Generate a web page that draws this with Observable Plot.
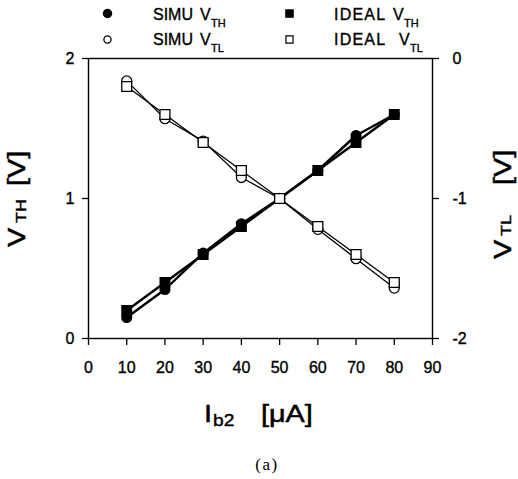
<!DOCTYPE html>
<html>
<head>
<meta charset="utf-8">
<script src="https://cdn.jsdelivr.net/npm/d3@7"></script>
<script src="https://cdn.jsdelivr.net/npm/@observablehq/plot@0.6"></script>
<style>
  html, body { margin: 0; padding: 0; background: #fff; }
  #chart svg { display: block; }
</style>
</head>
<body>
<div id="chart"></div>
<script>
// Data
const ib2 = [10, 20, 30, 40, 50, 60, 70, 80];
const simuVTH = [0.15, 0.35, 0.61, 0.82, 1.0, 1.2, 1.45, 1.6];
const idealVTH = [0.2, 0.4, 0.6, 0.8, 1.0, 1.2, 1.4, 1.6];
const simuVTL = [-0.16, -0.43, -0.59, -0.85, -1.0, -1.22, -1.43, -1.64];
const idealVTL = [-0.2, -0.4, -0.6, -0.8, -1.0, -1.2, -1.4, -1.6];
const xTicks = [0, 10, 20, 30, 40, 50, 60, 70, 80, 90];
const leftTicks = [0, 1, 2];
const leftTickLabels = ["0", "1", "2"];
const rightTickLabels = ["-2", "-1", "0"];

// V_TL is plotted on the right axis (0 at top, -2 at bottom) => shift by +2 onto the left scale
const mk = (vals, off) => ib2.map((x, i) => ({x, y: vals[i] + off}));
const sTH = mk(simuVTH, 0), iTH = mk(idealVTH, 0);
const sTL = mk(simuVTL, 2), iTL = mk(idealVTL, 2);

const font = "'Liberation Sans', Arial, sans-serif";

const plot = Plot.plot({
  width: 518,
  height: 479,
  marginLeft: 88,
  marginRight: 86,
  marginTop: 58,
  marginBottom: 141,
  style: {fontFamily: font, fontSize: "16px", color: "black", background: "white"},
  x: {domain: [0, 90]},
  y: {domain: [0, 2]},
  marks: [
    Plot.frame({stroke: "black", strokeWidth: 1.4}),
    Plot.axisX({ticks: xTicks, tickSize: 7, tickPadding: 16, fontSize: 16, label: null, stroke: "black", strokeWidth: 1.3}),
    Plot.axisY({anchor: "left", ticks: leftTicks, tickFormat: (d, i) => leftTickLabels[i], tickSize: 6, tickPadding: 8, fontSize: 16, label: null, stroke: "black", strokeWidth: 1.3}),
    Plot.axisY({anchor: "right", ticks: leftTicks, tickFormat: (d, i) => rightTickLabels[i], tickSize: 6, tickPadding: 14, fontSize: 16, label: null, stroke: "black", strokeWidth: 1.3}),
    Plot.line(sTH, {x: "x", y: "y", stroke: "black", strokeWidth: 2.4}),
    Plot.line(iTH, {x: "x", y: "y", stroke: "black", strokeWidth: 2.4}),
    Plot.line(sTL, {x: "x", y: "y", stroke: "black", strokeWidth: 1.3}),
    Plot.line(iTL, {x: "x", y: "y", stroke: "black", strokeWidth: 1.3}),
    Plot.dot(iTH, {x: "x", y: "y", symbol: "square", r: 5.3, fill: "black", stroke: "black"}),
    Plot.dot(sTH, {x: "x", y: "y", symbol: "circle", r: 4.8, fill: "black", stroke: "black"}),
    Plot.dot(sTL, {x: "x", y: "y", symbol: "circle", r: 5, fill: "white", stroke: "black", strokeWidth: 1.3}),
    Plot.dot(iTL, {x: "x", y: "y", symbol: "square", r: 5.6, fill: "white", stroke: "black", strokeWidth: 1.3}),
    // legend markers (offset from the frame's top-left corner)
    Plot.dot([0], {frameAnchor: "top-left", dx: 19, dy: -45, symbol: "circle", r: 4, fill: "black", stroke: "black"}),
    Plot.dot([0], {frameAnchor: "top-left", dx: 19, dy: -19, symbol: "circle", r: 3.6, fill: "white", stroke: "black", strokeWidth: 1.3}),
    Plot.dot([0], {frameAnchor: "top-left", dx: 201, dy: -45, symbol: "square", r: 4, fill: "black", stroke: "black"}),
    Plot.dot([0], {frameAnchor: "top-left", dx: 201, dy: -19, symbol: "square", r: 4, fill: "white", stroke: "black", strokeWidth: 1.2})
  ]
});
document.getElementById("chart").appendChild(plot);

// Text labels (pieces placed individually so subscripts sit like the reference)
const svg = d3.select(plot);
// thicken axis tick labels slightly, like the scanned original
svg.selectAll("g[aria-label$='tick label'] text").attr("stroke", "black").attr("stroke-width", 0.35);

function txt(x, y, s, size, opts = {}) {
  let tr = `translate(${x},${y})`;
  if (opts.rotate) tr += ` rotate(${opts.rotate})`;
  if (opts.sx) tr += ` scale(${opts.sx},1)`;
  return svg.append("text")
    .attr("transform", tr)
    .attr("text-anchor", opts.anchor || "start")
    .attr("font-family", opts.family || font)
    .attr("font-size", size)
    .attr("letter-spacing", opts.ls || 0)
    .attr("fill", "black")
    .attr("stroke", opts.noStroke ? "none" : "black")
    .attr("stroke-width", opts.sw || 0.35)
    .text(s);
}
// legend
txt(153, 19.5, "SIMU", 16);
txt(200, 19.5, "V", 16);
txt(211, 27, "TH", 11);
txt(153, 45, "SIMU", 16);
txt(200, 45, "V", 16);
txt(211, 52, "TL", 11);
txt(334, 19.5, "IDEAL", 16, {ls: 1.2});
txt(393, 19.5, "V", 16);
txt(404, 27, "TH", 11);
txt(334, 45, "IDEAL", 16, {ls: 1.2});
txt(399, 45, "V", 16);
txt(410, 52, "TL", 11);
// left axis title  V_TH [V]
txt(25, 247, "V", 24, {rotate: -90, sx: 1.2, sw: 0.5});
txt(26, 223, "TH", 15, {rotate: -90, sx: 1.2, sw: 0.4});
txt(25, 186, "[V]", 24, {rotate: -90, sx: 1.2, sw: 0.5});
// right axis title  V_TL [V]
txt(511, 259, "V", 24, {rotate: -90, sx: 1.2, sw: 0.5});
txt(511, 236, "TL", 15, {rotate: -90, sx: 1.2, sw: 0.4});
txt(511, 185, "[V]", 24, {rotate: -90, sx: 1.2, sw: 0.5});
// x axis title  I_b2 [µA]
txt(204, 422, "I", 24, {sx: 1.2, sw: 0.5});
txt(213, 426, "b2", 16, {sx: 1.2, sw: 0.4});
txt(261, 422, "[\u03BCA]", 24, {sx: 1.2, sw: 0.5});
// caption
txt(267, 470, "(a)", 17, {anchor: "middle", ls: 1.5, noStroke: true, family: "'Liberation Serif', 'DejaVu Serif', serif"});
</script>
</body>
</html>
